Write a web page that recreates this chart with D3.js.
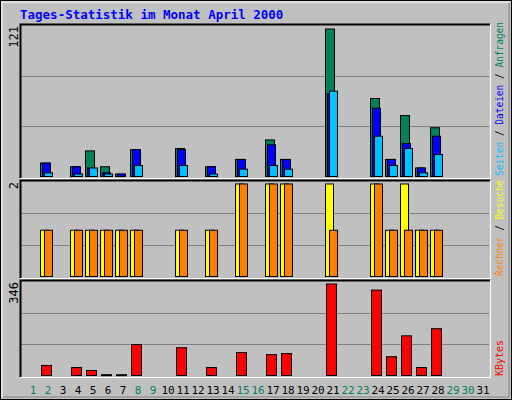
<!DOCTYPE html>
<html>
<head>
<style>
  body { margin: 0; background: #c0c0c0; }
  svg { display: block; }
  .mono { font-family: "DejaVu Sans Mono", "Liberation Mono", monospace; }
</style>
<script src="https://d3js.org/d3.v7.min.js"></script>
</head>
<body>
<svg width="512" height="400"></svg>
<script>
const days = d3.range(1, 32);
const weekend = [1, 2, 8, 9, 15, 16, 22, 23, 29, 30];
// per-day values (index 0 = day 1)
const hits  = [0,11,0,8,21,8,2,22,0,0,23,0,8,0,14,0,30,14,0,0,121,0,0,64,14,50,7,40,0,0,0];
const files = [0,11,0,8,7,3,2,22,0,0,22,0,8,0,14,0,26,14,0,0,68,0,0,56,14,27,7,33,0,0,0];
const pages = [0,3,0,2,7,2,0,9,0,0,9,0,2,0,6,0,9,6,0,0,70,0,0,33,9,23,3,18,0,0,0];
const visits = [0,1,0,1,1,1,1,1,0,0,1,0,1,0,2,0,2,2,0,0,2,0,0,2,1,2,1,1,0,0,0];
const hosts  = [0,1,0,1,1,1,1,1,0,0,1,0,1,0,2,0,2,2,0,0,1,0,0,2,1,1,1,1,0,0,0];
const kbytes = [0,38,0,30,19,3,3,117,0,0,105,0,30,0,87,0,79,83,0,0,346,0,0,323,71,150,30,177,0,0,0];
const maxLabels = ["121", "2", "346"];

const svg = d3.select("svg");
// outer frame
svg.append("rect").attr("x", 0.5).attr("y", 0.5).attr("width", 511).attr("height", 399)
  .attr("fill", "#c0c0c0").attr("stroke", "#000");
svg.append("path").attr("d", "M2,398V2H510").attr("fill", "none").attr("stroke", "#fff");
svg.append("path").attr("d", "M509,3V397H3").attr("fill", "none").attr("stroke", "#808080");

svg.append("text").attr("class", "mono").attr("x", 20).attr("y", 19)
  .attr("fill", "#0000ff").attr("font-weight", "bold").attr("font-size", 12.5)
  .text("Tages-Statistik im Monat April 2000");

const x = d3.scaleBand().domain(days).range([25, 490]);

const panels = [
  { top: 24, bottom: 178, max: 121, valTop: 29 },
  { top: 180, bottom: 278, max: 2, valTop: 184 },
  { top: 280, bottom: 377, max: 346, valTop: 284 }
];

panels.forEach((p, i) => {
  svg.append("rect").attr("x", 20).attr("y", p.top).attr("width", 470).attr("height", p.bottom - p.top)
    .attr("fill", "#c0c0c0");
  const base = p.bottom - 1.5;
  const h = base - (p.top + 1);
  [1, 2].forEach(k => {
    svg.append("line").attr("x1", 21).attr("x2", 489)
      .attr("y1", Math.round(base - h * k / 3) + 0.5).attr("y2", Math.round(base - h * k / 3) + 0.5)
      .attr("stroke", "#808080");
  });
  svg.append("path").attr("d", `M20.5,${p.bottom}V${p.top + 0.5}H490`).attr("fill", "none").attr("stroke", "#000").attr("stroke-width", 2);
  svg.append("path").attr("d", `M490.5,${p.top}V${p.bottom + 0.5}H20`).attr("fill", "none").attr("stroke", "#fff");
  p.y = d3.scaleLinear().domain([0, p.max]).range([base, p.valTop]);
  svg.append("text").attr("class", "mono").attr("font-size", 12).attr("fill", "#000")
    .attr("transform", `translate(18,${p.top + 2}) rotate(-90)`).attr("text-anchor", "end")
    .text(maxLabels[i]);
});

function bars(data, panel, off, w, color) {
  svg.append("g").selectAll("rect").data(days.filter((d, i) => data[i] > 0)).enter().append("rect")
    .attr("x", d => x(d) + off + 0.5)
    .attr("y", d => panel.y(data[d - 1]))
    .attr("width", w)
    .attr("height", d => Math.max(1, panel.y(0) - panel.y(data[d - 1])))
    .attr("fill", color).attr("stroke", "#000");
}
bars(hits, panels[0], 0, 9, "#00805c");
bars(files, panels[0], 2, 8, "#0000ff");
bars(pages, panels[0], 4, 8, "#00c0ff");
bars(visits, panels[1], 0, 8, "#ffff00");
bars(hosts, panels[1], 4, 8, "#ff8000");
bars(kbytes, panels[2], 1, 10, "#ff0000");

// day labels
svg.append("g").selectAll("text").data(days).enter().append("text")
  .attr("class", "mono").attr("font-size", 11).attr("text-anchor", "middle")
  .attr("x", d => x(d) + 8).attr("y", 394)
  .attr("fill", d => weekend.includes(d) ? "#00805c" : "#000")
  .text(d => d);

// right-side legends (rotated, reading bottom-up)
function legend(parts, yBottom, len) {
  const t = svg.append("text").attr("class", "mono").attr("font-size", 10.5)
    .attr("textLength", len).attr("lengthAdjust", "spacingAndGlyphs")
    .attr("transform", `translate(503,${yBottom}) rotate(-90)`);
  parts.forEach(([s, c]) => t.append("tspan").attr("fill", c).text(s));
}
legend([["Seiten", "#00c0ff"], [" / ", "#000"], ["Dateien", "#0000ff"], [" / ", "#000"], ["Anfragen", "#00805c"]], 176, 154);
legend([["Rechner", "#ff8000"], [" / ", "#000"], ["Besuche", "#ffff00"]], 276, 96);
legend([["KBytes", "#ff0000"]], 376, 36);
</script>
</body>
</html>
